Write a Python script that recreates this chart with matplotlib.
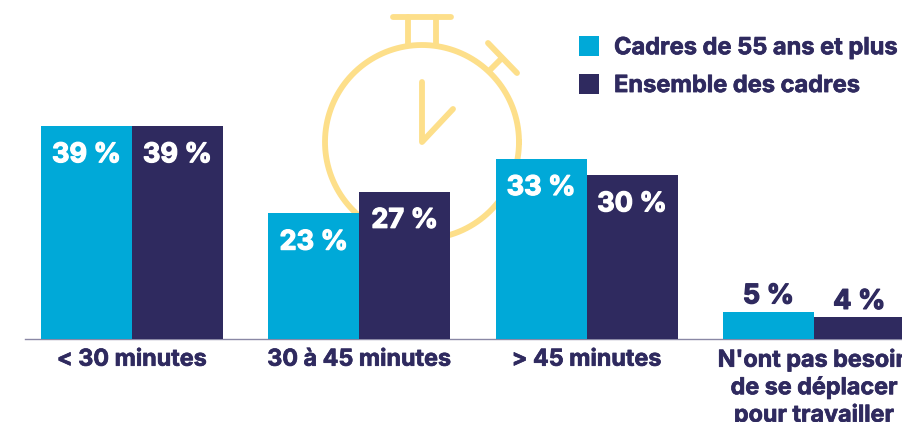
import matplotlib
matplotlib.use("Agg")
import matplotlib.pyplot as plt
import matplotlib.patheffects as pe
import numpy as np

categories = ["< 30 minutes", "30 à 45 minutes", "> 45 minutes",
              "N'ont pas besoin\nde se déplacer\npour travailler"]
series_names = ["Cadres de 55 ans et plus", "Ensemble des cadres"]
cadres_55 = [39, 23, 33, 5]
ensemble = [39, 27, 30, 4]

CYAN = "#00A9D8"
NAVY = "#2F2A5F"
YELLOW = "#FDDF8A"
FONT = "Inter"
W, H = 903, 422

plt.rcParams["font.family"] = [FONT, "DejaVu Sans"]
fig = plt.figure(figsize=(W / 100, H / 100), dpi=100)

# Decorative stopwatch in a pixel-space layer behind the chart
bg = fig.add_axes([0, 0, 1, 1], zorder=0)
bg.set_xlim(0, W); bg.set_ylim(H, 0); bg.axis("off")
lw = 4.2
kw = dict(color=YELLOW, lw=lw, solid_capstyle="round", solid_joinstyle="round")
t = np.linspace(0, 2 * np.pi, 300)
bg.plot(422 + 97 * np.cos(t), 142 + 97 * np.sin(t), color=YELLOW, lw=lw)
bg.plot([393, 451], [17, 17], **kw)
bg.plot([408, 408], [17, 44], **kw)
bg.plot([436, 436], [17, 44], **kw)
bg.plot([488, 517], [43, 73], **kw)
bg.plot([501, 490], [59, 70], **kw)
bg.plot([422, 422, 453], [82, 142, 109], **kw)

# Chart layer
PX_PER_UNIT_X = 227.3
PX_PER_PCT = 5.46
X0_PX, Y0_PX = 132, 339
ax = fig.add_axes([0, 0, 1, 1], zorder=1)
ax.patch.set_alpha(0)
ax.set_xlim(-X0_PX / PX_PER_UNIT_X, (W - X0_PX) / PX_PER_UNIT_X)
ax.set_ylim(-(H - Y0_PX) / PX_PER_PCT, Y0_PX / PX_PER_PCT)
ax.axis("off")

x = np.arange(len(categories))
bw = 0.4
b1 = ax.bar(x - bw / 2, cadres_55, bw, color=CYAN, label=series_names[0], zorder=3)
b2 = ax.bar(x + bw / 2, ensemble, bw, color=NAVY, label=series_names[1], zorder=3)
ax.axhline(0, xmin=25 / W, color="#8A88A5", lw=1, zorder=2)


def heavy(color, width):
    return [pe.withStroke(linewidth=width, foreground=color)]


for bars, vals in ((b1, cadres_55), (b2, ensemble)):
    for r, v in zip(bars, vals):
        cx = r.get_x() + r.get_width() / 2
        if v > 10:
            ax.annotate(f"{v} %", (cx, v), xytext=(0, -21), textcoords="offset points",
                        ha="center", va="center", color="white", fontsize=19.5,
                        fontweight="bold", zorder=4, path_effects=heavy("white", 0.9))
        else:
            ax.annotate(f"{v} %", (cx, v), xytext=(0, 11), textcoords="offset points",
                        ha="center", va="center", color=NAVY, fontsize=19.5,
                        fontweight="bold", zorder=4, path_effects=heavy(NAVY, 0.9))

for xi, c in zip(x, categories):
    ax.annotate(c, (xi, 0), xytext=(0, -7), textcoords="offset points", ha="center", va="top",
                color=NAVY, fontsize=16.8, fontweight="bold", linespacing=1.25,
                path_effects=heavy(NAVY, 0.5))

leg = ax.legend(loc="upper left", bbox_to_anchor=(572 / W, 1 - 29 / H), frameon=False,
                prop={"size": 17, "weight": "bold", "family": FONT},
                handlelength=0.85, handleheight=0.93, handletextpad=0.63,
                labelspacing=0.62, borderpad=0.3, borderaxespad=0)
for txt in leg.get_texts():
    txt.set_color(NAVY)
    txt.set_path_effects(heavy(NAVY, 0.5))

fig.savefig("out.png", dpi=100)
